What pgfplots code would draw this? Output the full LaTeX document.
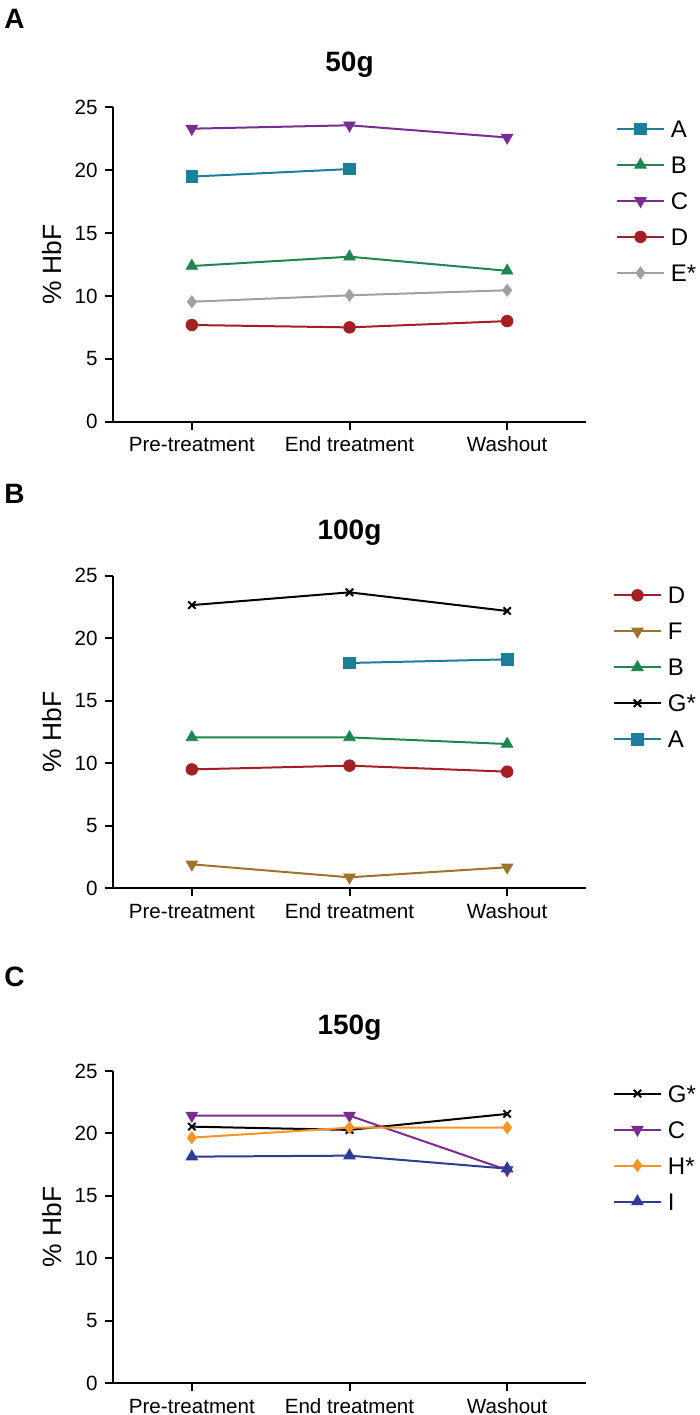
\documentclass[border=0pt]{standalone}
\usepackage{fontspec}
\setmainfont{Liberation Sans}
\usepackage{pgfplots}
\pgfplotsset{compat=1.18}
\definecolor{cA}{RGB}{26,128,153}
\definecolor{cB}{RGB}{30,135,80}
\definecolor{cC}{RGB}{122,45,145}
\definecolor{cD}{RGB}{165,30,35}
\definecolor{cE}{RGB}{160,160,160}
\definecolor{cF}{RGB}{160,115,45}
\definecolor{cG}{RGB}{0,0,0}
\definecolor{cH}{RGB}{247,148,40}
\definecolor{cI}{RGB}{45,60,150}
\pgfplotsset{
  panel/.style={
    scale only axis, width=236.5pt, clip=false,
    xmin=-0.5, xmax=2.5, ymin=0, ymax=25,
    xtick={0,1,2}, xticklabels={Pre-treatment,End treatment,Washout},
    ytick={0,5,10,15,20,25},
    axis x line*=bottom, axis y line*=left,
    x axis line style={-}, y axis line style={-},
    axis line style={line width=1pt},
    tick align=outside, major tick length=4pt,
    tick style={black, line width=1pt},
    /pgf/number format/assume math mode=true,
    tick label style={font=\fontsize{10.3}{12}\selectfont},
    xticklabel style={anchor=base, yshift=-11pt},
    yticklabel style={anchor=east, inner sep=0pt, xshift=-3.5pt},
    ylabel={\% HbF},
    ylabel style={font=\fontsize{13.2}{15}\selectfont, at={(axis description cs:-0.1287,0.5)}, anchor=center, rotate=0},
    title style={font=\bfseries\fontsize{14}{16}\selectfont, at={(axis description cs:0.5,1)}, anchor=base, yshift=12pt},
    every axis plot/.append style={line width=1pt},
    legend style={draw=none, fill=none, anchor=north west, inner sep=0pt, outer sep=0pt,
      row sep=9.4pt, column sep=3pt,
      font=\fontsize{12}{14}\selectfont,
      nodes={inner sep=0pt, text height=8.6pt, text depth=0pt}},
    legend cell align=left,
    legend image code/.code={
      \draw[##1, mark=none, line width=1pt] (0pt,0pt) -- (23.5pt,0pt);
      \draw[##1] plot coordinates {(11.75pt,0pt)};
    },
  },
  sA/.style={cA, mark=square*, mark size=2.9pt, mark options={solid, line width=0.4pt, fill=cA}},
  sB/.style={cB, mark=triangle*, mark size=3.3pt, mark options={solid, line width=0.4pt, fill=cB}},
  sC/.style={cC, mark=triangle*, mark size=3.3pt, mark options={solid, line width=0.4pt, fill=cC, rotate=180}},
  sD/.style={cD, mark=*, mark size=2.9pt, mark options={solid, line width=0.4pt, fill=cD}},
  sE/.style={cE, mark=diamond*, mark size=3pt, mark options={solid, line width=0.4pt, fill=cE}},
  sF/.style={cF, mark=triangle*, mark size=3.3pt, mark options={solid, line width=0.4pt, fill=cF, rotate=180}},
  sG/.style={cG, mark=x, mark size=2.6pt, mark options={solid, line width=1pt}},
  sH/.style={cH, mark=diamond*, mark size=3pt, mark options={solid, line width=0.4pt, fill=cH}},
  sI/.style={cI, mark=triangle*, mark size=3.3pt, mark options={solid, line width=0.4pt, fill=cI}},
}
\begin{document}
\begin{tikzpicture}
\useasboundingbox (0,0) rectangle (350pt,-707.5pt);
\node[anchor=base west, font=\bfseries\fontsize{14}{16}\selectfont, inner sep=0pt] at (2pt,-14pt) {A};
\node[anchor=base west, font=\bfseries\fontsize{14}{16}\selectfont, inner sep=0pt] at (2pt,-251.5pt) {B};
\node[anchor=base west, font=\bfseries\fontsize{14}{16}\selectfont, inner sep=0pt] at (2pt,-493pt) {C};

% Panel A
\begin{axis}[panel, at={(56.5pt,-210.85pt)}, anchor=south west, height=157.2pt, title={50g},
  legend style={at={(axis description cs:1.0634,1)}, yshift=-6.5pt}]
\addplot[sA] coordinates {(0,19.49) (1,20.09)};
\addlegendentry{A}
\addplot[sB] coordinates {(0,12.38) (1,13.12) (2,12.0)};
\addlegendentry{B}
\addplot[sC] coordinates {(0,23.3) (1,23.57) (2,22.6)};
\addlegendentry{C}
\addplot[sD] coordinates {(0,7.69) (1,7.5) (2,8.0)};
\addlegendentry{D}
\addplot[sE] coordinates {(0,9.54) (1,10.05) (2,10.45)};
\addlegendentry{E*}
\end{axis}

% Panel B
\begin{axis}[panel, at={(56.5pt,-444.15pt)}, anchor=south west, height=156.3pt, title={100g},
  legend style={at={(axis description cs:1.057,1)}, yshift=-5.5pt}]
\addplot[sD] coordinates {(0,9.51) (1,9.81) (2,9.33)};
\addlegendentry{D}
\addplot[sF] coordinates {(0,1.92) (1,0.88) (2,1.68)};
\addlegendentry{F}
\addplot[sB] coordinates {(0,12.07) (1,12.07) (2,11.54)};
\addlegendentry{B}
\addplot[sG] coordinates {(0,22.65) (1,23.67) (2,22.18)};
\addlegendentry{G*}
\addplot[sA] coordinates {(1,18.02) (2,18.31)};
\addlegendentry{A}
\end{axis}

% Panel C
\begin{axis}[panel, at={(56.5pt,-691.65pt)}, anchor=south west, height=156.2pt, title={150g},
  legend style={at={(axis description cs:1.057,1)}, yshift=-7pt}]
\addplot[sG] coordinates {(0,20.54) (1,20.28) (2,21.56)};
\addlegendentry{G*}
\addplot[sC] coordinates {(0,21.42) (1,21.42) (2,17.07)};
\addlegendentry{C}
\addplot[sH] coordinates {(0,19.66) (1,20.46) (2,20.46)};
\addlegendentry{H*}
\addplot[sI] coordinates {(0,18.14) (1,18.22) (2,17.18)};
\addlegendentry{I}
\end{axis}
\end{tikzpicture}
\end{document}
